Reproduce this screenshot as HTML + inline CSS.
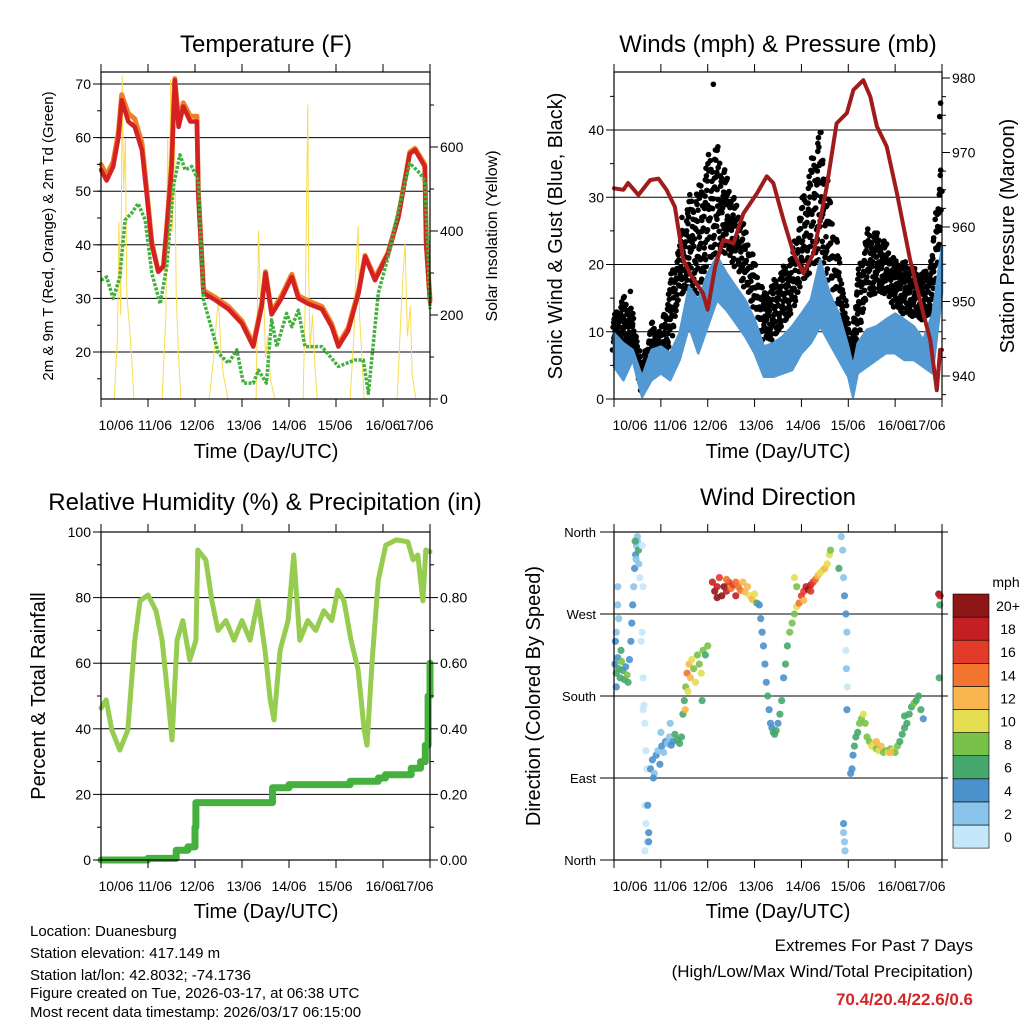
<!DOCTYPE html>
<html><head><meta charset="utf-8"><style>
body{margin:0;background:#fff}
svg{display:block;font-family:"Liberation Sans",sans-serif}
</style></head><body>
<svg id="s" width="1024" height="1024" viewBox="0 0 1024 1024" xmlns="http://www.w3.org/2000/svg"></svg>
<script>
// ---------- DATA ----------
const tempDay=[0,0.12,0.26,0.37,0.44,0.58,0.72,0.87,0.97,1.08,1.22,1.33,1.4,1.5,1.57,1.65,1.75,1.9,2.04,2.07,2.18,2.43,2.71,3.0,3.24,3.42,3.5,3.63,3.84,4.06,4.2,4.41,4.7,4.91,5.05,5.26,5.48,5.62,5.83,6.11,6.33,6.57,6.68,6.89,6.92,7.0];
const temp2m=[54,52,54.6,60,67,63,62,57.7,49.6,40,35,36,43,54,70.7,62,65.8,63,63,49.6,31,29.7,28,25.3,21,28.5,34.7,27,30,34,30,29,28,24.7,21,24,31,37.8,33.4,38.4,45.2,57,57.7,54.6,40,29.4];
const temp9m=[55,53,55.5,61,68,64.5,63.5,59,50.5,40.5,35,36,43.5,55,71,63,66.5,64,64,50,31.5,30.2,28.5,25.8,21.5,29,35,27.5,30.5,34.5,30.5,29.5,28.5,25.2,21.5,24.5,31.5,38,33.8,38.6,45.5,57.3,58,55,40.5,29.8];
const dewDay=[0,0.12,0.26,0.4,0.51,0.65,0.79,0.94,1.08,1.26,1.4,1.54,1.68,1.79,1.93,2.07,2.18,2.5,2.71,2.89,3.03,3.24,3.35,3.52,3.63,3.74,3.95,4.06,4.2,4.34,4.7,5.05,5.4,5.58,5.69,5.9,6.11,6.33,6.57,6.79,6.89,6.95,7.0];
const dewPt=[33.4,34,30,34,44.6,45.9,47.7,44.6,34.7,29,36,51,56.8,54,54.6,52,29.7,19.8,17.9,20.4,14.2,14.2,16.6,14.2,26,21,27.2,24.7,27.8,21,21,17.3,18.5,18.5,12.3,31,37.8,46.5,55.2,53.3,52,40,28];
const solarDay=[0,0.28,0.35,0.38,0.42,0.45,0.48,0.52,0.55,0.6,0.65,0.7,1.3,1.38,1.42,1.45,1.48,1.52,1.56,1.6,1.65,1.7,2.3,2.4,2.45,2.5,2.55,2.6,2.7,3.3,3.35,3.4,3.45,3.5,3.55,3.6,3.7,4.3,4.35,4.4,4.42,4.45,4.5,4.55,4.6,5.3,5.38,5.42,5.47,5.5,5.55,5.6,6.3,6.38,6.43,6.47,6.52,6.58,6.62,6.7,7.0];
const solarVal=[0,0,150,420,200,770,500,620,250,180,100,0,0,200,620,350,760,400,700,250,100,0,0,100,180,240,120,60,0,0,400,200,300,100,150,50,0,0,250,700,300,120,200,80,0,0,150,300,410,200,100,0,0,200,300,370,150,220,60,0,0];
const presDay=[0,0.2,0.3,0.52,0.77,0.95,1.12,1.3,1.48,1.66,1.9,2.0,2.16,2.33,2.55,2.76,3.05,3.26,3.4,3.62,3.83,4.04,4.26,4.54,4.75,4.97,5.11,5.32,5.47,5.61,5.82,6.04,6.18,6.32,6.6,6.75,6.89,6.96,7.0];
const presVal=[965.2,965,965.9,964.3,966.3,966.5,965,962.7,955.6,953.3,951.1,948.9,954.7,958.3,957.8,961.8,964.5,966.8,965.9,960.9,956.5,953.8,956.5,965.4,973.9,975.3,978.4,979.7,977.5,973.5,970.8,964.5,960,955.6,948.4,944.8,938.1,943.5,943.5];
const windDay=[0,0.2,0.4,0.6,0.8,1.0,1.2,1.4,1.6,1.8,2.0,2.2,2.4,2.6,2.8,3.0,3.2,3.4,3.6,3.8,4.0,4.2,4.4,4.6,4.8,5.0,5.1,5.2,5.4,5.6,5.8,6.0,6.2,6.4,6.6,6.8,7.0];
const windLo=[4.8,2.8,5.8,0.3,2.8,3.8,2.8,5.8,10.8,6.8,10.8,14.7,13.2,11.3,9.3,6.8,3.3,3.3,3.8,4.3,6.8,8.3,10.8,8.3,5.8,3.3,0.3,3.8,4.8,5.8,6.8,6.8,5.8,5.8,4.8,3.8,15.7];
const windHi=[9.8,8.3,7.3,3.3,7.3,7.8,6.8,9.8,16.7,14.7,18.7,21.2,18.7,16.7,14.7,11.8,7.8,8.3,9.3,10.8,12.7,14.7,20.7,15.7,12.7,7.8,4.8,8.3,10.3,10.8,11.8,12.7,11.8,10.8,8.8,12.7,22.7];
const gustLo=[7.3,8.3,7.8,1.3,5.8,5.8,7.8,14.7,16.7,15.7,19.7,21.7,21.7,19.7,16.7,13.7,8.8,8.8,10.8,12.7,16.7,18.7,20.7,17.7,12.7,5.8,3.3,8.8,14.7,15.7,15.7,13.7,12.7,12.3,11.8,12.7,25.6];
const gustHi=[12.3,15.7,13.2,4.3,11.8,9.8,18.2,23.6,30.6,31.6,36.5,38.5,33.6,29.5,25.6,20.7,15.7,17.7,19.7,21.7,29.5,35.5,41.5,30.6,21.7,11.8,8.3,18.7,25.6,25.1,23.6,20.7,20.7,19.7,18.7,21.7,38];
const gustOutDay=[2.12,1.45,1.55,4.35,4.45,6.95,6.97,0.35];
const gustOutVal=[46.8,27,25,38,35,42,44,16];
const rhDay=[0,0.11,0.23,0.4,0.57,0.72,0.83,1.0,1.17,1.3,1.43,1.51,1.62,1.74,1.89,2.02,2.06,2.23,2.36,2.49,2.66,2.83,3.0,3.17,3.34,3.49,3.6,3.68,3.81,3.98,4.1,4.23,4.4,4.57,4.74,4.91,5.04,5.17,5.32,5.47,5.6,5.66,5.77,5.9,6.06,6.28,6.53,6.64,6.74,6.85,6.91,6.98,7.0];
const rhVal=[46.3,48.8,39.6,33.5,39.6,67,79,80.8,76,67,48.8,36.6,67,73,61,67,94.5,91.5,79,70,73,67,73,67,79,64,48.8,42.7,64,73,93,67,73,70,76,73,82.3,79,67,58,39.6,35,61,85.4,96,97.6,97,91.5,93,79,94.5,94,94];
const rainDay=[0,1.0,1.6,1.85,2.0,2.02,3.6,3.65,4.0,5.3,5.9,6.05,6.6,6.8,6.9,6.96,7.0];
const rainVal=[0,0.5,3,4,10,17.5,17.5,22,23,24,25,26,28,30,35,50,60];
const dirDay=[0.02,0.05,0.08,0.1,0.13,0.16,0.19,0.22,0.25,0.28,0.3,0.33,0.05,0.15,0.08,0.08,0.1,0.05,0.03,
0.36,0.38,0.4,0.42,0.44,0.46,0.48,0.5,0.52,0.53,0.55,0.5,0.47,0.45,
0.6,0.62,0.6,0.62,0.64,0.66,0.68,0.7,0.66,0.68,0.7,0.66,0.72,0.74,0.74,0.58,0.62,
0.78,0.82,0.86,0.9,0.94,0.98,1.02,1.06,1.1,1.14,1.18,1.22,1.26,1.3,1.35,1.4,1.44,0.84,1.0,1.2,
1.47,1.5,1.53,1.56,1.6,1.63,1.66,1.7,1.74,1.78,1.82,1.86,1.9,1.95,2.0,1.52,1.58,1.88,
2.1,2.15,2.2,2.25,2.3,2.35,2.4,2.45,2.5,2.55,2.6,2.65,2.7,2.75,2.8,2.85,2.9,2.95,3.0,3.05,2.2,2.4,2.6,
3.1,3.13,3.16,3.19,3.22,3.25,3.28,3.31,3.34,3.37,3.4,3.43,3.46,3.5,3.54,3.58,3.62,3.66,3.7,3.75,3.8,3.85,3.9,3.95,4.0,4.05,4.1,4.15,4.2,4.25,4.3,4.35,4.4,4.45,4.5,4.55,4.6,4.62,3.85,3.9,4.05,4.2,
4.85,4.88,4.9,4.92,4.95,4.97,4.95,4.96,4.98,4.97,4.9,4.92,4.93,4.9,4.8,
5.05,5.08,5.1,5.13,5.16,5.2,5.24,5.28,5.32,5.36,5.4,5.45,5.5,5.55,5.6,5.65,5.7,5.75,5.8,5.85,5.9,5.95,6.0,6.05,6.1,6.15,6.2,6.25,6.3,6.35,6.4,6.45,6.5,6.55,6.6,5.6,5.9,6.2,
6.93,6.96,6.95,6.94];
const dirDeg=[215,205,222,210,200,218,208,198,212,203,195,220,190,230,300,280,265,250,240,
240,260,280,300,320,335,345,350,340,325,310,355,330,350,
345,300,250,200,170,150,120,100,60,40,20,10,60,20,30,240,165,
100,110,95,115,120,105,125,118,130,128,135,126,130,138,132,128,135,90,140,150,
160,175,190,205,215,200,220,210,195,225,215,205,230,225,235,165,185,175,
305,295,300,310,290,300,295,305,298,302,290,300,296,305,294,300,290,286,292,282,288,308,305,
280,265,250,235,215,195,180,165,150,145,140,138,142,150,160,175,200,215,235,250,260,270,278,282,290,295,300,297,302,305,308,312,315,318,320,325,335,340,310,300,285,295,
355,340,310,290,270,250,230,210,190,165,40,20,10,30,320,
95,100,115,125,135,140,150,155,160,150,135,130,125,128,122,120,125,118,120,118,122,120,118,125,130,138,145,150,160,168,172,175,180,165,155,130,118,158,
292,290,280,200];
const dirSpd=[4,6,5,7,6,8,6,7,5,8,7,5,4,7,2,3,2,3,4,
4,4,4,3,4,4,3,2,6,2,1,2,2,6,
1,1,0,1,0,0,0,1,0,1,1,0,4,4,4,0,1,
4,4,3,4,3,4,4,3,4,3,2,4,5,6,7,7,6,4,3,2,
6,7,8,14,13,12,10,9,10,8,9,11,8,7,8,12,11,7,
18,20,19,17,20,20,18,16,15,17,18,15,14,13,13,12,11,12,10,6,20,15,14,
4,5,4,4,5,5,6,5,4,4,6,7,6,5,6,7,5,6,7,8,8,9,10,14,16,17,19,20,18,16,14,12,11,10,12,10,10,9,10,8,13,16,
2,3,3,4,4,2,1,2,1,4,4,2,2,2,7,
4,4,5,6,6,7,8,9,10,8,8,9,10,11,9,10,12,9,8,10,9,11,9,8,7,6,6,7,6,7,8,7,6,6,5,13,12,6,
20,19,7,6];
const xLabels=["10/06","11/06","12/06","13/06","14/06","15/06","16/06","17/06"];
const speedLabels=["0","2","4","6","8","10","12","14","16","18","20+"];
const speedColors=['#c4e8fa','#8ac4ea','#4b91cc','#46a86c','#79c24a','#e3de50','#f9b64e','#f2742e','#e23b2a','#c41f23','#8e1617'];

// ---------- HELPERS ----------
const S=document.getElementById('s');
const NS='http://www.w3.org/2000/svg';
function mk(tag,attrs,parent){const e=document.createElementNS(NS,tag);for(const k in attrs)e.setAttribute(k,attrs[k]);(parent||S).appendChild(e);return e;}
function txt(x,y,s,size,anchor,extra){const e=mk('text',Object.assign({x:x,y:y,'font-size':size,'text-anchor':anchor||'middle',fill:'#000'},extra||{}));e.textContent=s;return e;}
const P1={x0:101,x1:430,y0:72,y1:399},P2={x0:614,x1:942,y0:72,y1:399},P3={x0:101,x1:430,y0:532,y1:860},P4={x0:614,x1:942,y0:532,y1:860};
function xs(P,d){return P.x0+d*(P.x1-P.x0)/7;}
const yT=v=>84+(70-v)*5.36, ySol=v=>399-v*0.42;
const yW=v=>399-v*6.725, yP=v=>376-(v-940)*7.45;
const yR=v=>860-v*3.28, yD=v=>860-v*328/360;
function poly(P,days,vals,fy,attrs,name){let pts=days.map((d,i)=>xs(P,d).toFixed(1)+','+fy(vals[i]).toFixed(1)).join(' ');const e=mk('polyline',Object.assign({points:pts,fill:'none','stroke-linejoin':'round','stroke-linecap':'round'},attrs));


return e;}
function frame(P,name,lblX){
  const g=mk('g',{});
  
  
  for(let i=0;i<=7;i++){const x=xs(P,i);
    mk('line',{x1:x,x2:x,y1:P.y1,y2:P.y1+8,stroke:'#000','stroke-width':1},g);
    mk('line',{x1:x,x2:x,y1:P.y0,y2:P.y0-8,stroke:'#000','stroke-width':1},g);
    const t=txt(lblX[i],P.y1+31,xLabels[i],14,'middle');
    
    
  }
  return g;
}
function box(P,name){const r=mk('rect',{x:P.x0,y:P.y0,width:P.x1-P.x0,height:P.y1-P.y0,fill:'none',stroke:'#000','stroke-width':1.2});

}
function hgrid(P,ys){ys.forEach(y=>{const l=mk('line',{x1:P.x0,x2:P.x1,y1:y,y2:y,stroke:'#000','stroke-width':1});

});}
function yTicks(P,side,vals,fy,labels,len,size,gap){vals.forEach((v,i)=>{const y=fy(v);const x=side==='l'?P.x0:P.x1;
mk('line',{x1:x,x2:side==='l'?x-len:x+len,y1:y,y2:y,stroke:'#000','stroke-width':1});
if(labels&&labels[i]!==null&&labels[i]!==undefined){const g=gap||10;const t=txt(side==='l'?x-g:x+g,y+5,labels[i],size||14,side==='l'?'end':'start');

}});}
function rotTitle(x,y,s,size,name){const t=txt(x,y,s,size,'middle',{transform:'rotate(-90 '+x+' '+y+')'});

}
function title(x,y,s,size,name){const t=txt(x,y,s,size,'middle');

}

// ---------- PANEL 1: TEMPERATURE ----------
hgrid(P1,[70,60,50,40,30,20].map(yT));
poly(P1,solarDay,solarVal,ySol,{stroke:'#f8dc50','stroke-width':1},'solar-insolation-line');
poly(P1,tempDay,temp9m,yT,{stroke:'#f07f28','stroke-width':5},'temp-9m-line');
poly(P1,tempDay,temp2m,yT,{stroke:'#d42222','stroke-width':4.5},'temp-2m-line');
poly(P1,dewDay,dewPt,yT,{stroke:'#44b040','stroke-width':3.5,'stroke-dasharray':'3 1.5','stroke-linecap':'butt'},'dewpoint-line');
box(P1,'temperature-plot-frame');
frame(P1,'temperature-x-axis',[116,155,197,244,289,335,383,416]);
yTicks(P1,'l',[15,20,25,30,35,40,45,50,55,60,65,70],yT,null,4);
yTicks(P1,'l',[20,30,40,50,60,70],yT,['20','30','40','50','60','70'],8);
yTicks(P1,'r',[100,300,500,700],ySol,null,4);
yTicks(P1,'r',[0,200,400,600],ySol,['0','200','400','600'],8);
title(266,52,'Temperature (F)',24,'temperature-title');
title(266,458,'Time (Day/UTC)',20,'temperature-x-title');
rotTitle(53,236,'2m & 9m T (Red, Orange) & 2m Td (Green)',15,'temperature-y-title');
rotTitle(497,236,'Solar Insolation (Yellow)',16,'solar-y-title');

// ---------- PANEL 2: WINDS ----------
hgrid(P2,[10,20,30,40].map(yW));
const scatterPattern=[0,0.37,0.71,0.19,0.55,0.88,0.08,0.46];
for(let i=0;i<windDay.length-1;i++){for(let k=0;k<8;k++){const f=k/8;const d=windDay[i]+(windDay[i+1]-windDay[i])*f;
 const lo=gustLo[i]+(gustLo[i+1]-gustLo[i])*f, hi=gustHi[i]+(gustHi[i+1]-gustHi[i])*f;
 for(let j=0;j<5;j++){const q=(j+scatterPattern[(k+j*3)%8])/5;const v=lo+(hi-lo)*q;const c=mk('circle',{cx:(xs(P2,d)+scatterPattern[(k*5+j)%8]*3-1.5).toFixed(1),cy:yW(v).toFixed(1),r:2.8,fill:'#000'});
 
 }}}
gustOutDay.forEach((d,i)=>{const c=mk('circle',{cx:xs(P2,d),cy:yW(gustOutVal[i]),r:2.8,fill:'#000'});

});
{const pts=windDay.map((d,i)=>xs(P2,d).toFixed(1)+','+yW(windHi[i]).toFixed(1)).concat(windDay.slice().reverse().map((d,i)=>{const j=windDay.length-1-i;return xs(P2,d).toFixed(1)+','+yW(windLo[j]).toFixed(1);})).join(' ');
const e=mk('polygon',{points:pts,fill:'#5298d2',stroke:'#5298d2','stroke-width':2.5,'stroke-linejoin':'round'});

}
poly(P2,presDay,presVal,yP,{stroke:'#a01c1c','stroke-width':4},'pressure-line');
box(P2,'winds-plot-frame');
frame(P2,'winds-x-axis',[630,670,710,756,803,848,895,928]);
yTicks(P2,'l',[5,15,25,35,45],yW,null,4);
yTicks(P2,'l',[0,10,20,30,40],yW,['0','10','20','30','40'],8);
yTicks(P2,'r',[937.5,942.5,945,947.5,952.5,955,957.5,962.5,965,967.5,972.5,975,977.5],yP,null,4);
yTicks(P2,'r',[940,950,960,970,980],yP,['940','950','960','970','980'],8);
title(778,52,'Winds (mph) & Pressure (mb)',24,'winds-title');
title(778,458,'Time (Day/UTC)',20,'winds-x-title');
rotTitle(562,236,'Sonic Wind & Gust (Blue, Black)',20,'wind-y-title');
rotTitle(1014,236,'Station Pressure (Maroon)',20,'pressure-y-title');

// ---------- PANEL 3: RH & PRECIP ----------
hgrid(P3,[20,40,60,80].map(yR));
poly(P3,rhDay,rhVal,yR,{stroke:'#96cc50','stroke-width':5},'relative-humidity-line');
{let pts=[];rainDay.forEach((d,i)=>{if(i>0)pts.push(xs(P3,d).toFixed(1)+','+yR(rainVal[i-1]).toFixed(1));pts.push(xs(P3,d).toFixed(1)+','+yR(rainVal[i]).toFixed(1));});
const e=mk('polyline',{points:pts.join(' '),fill:'none',stroke:'#46b03e','stroke-width':7,'stroke-linejoin':'round','stroke-linecap':'round'});

}
box(P3,'humidity-plot-frame');
frame(P3,'humidity-x-axis',[116,155,197,244,289,335,383,416]);
yTicks(P3,'l',[10,30,50,70,90],yR,null,4);
yTicks(P3,'l',[0,20,40,60,80,100],yR,['0','20','40','60','80','100'],8);
yTicks(P3,'r',[10,30,50,70,90],yR,null,4);
yTicks(P3,'r',[0,20,40,60,80],yR,['0.00','0.20','0.40','0.60','0.80'],8);
title(265,510,'Relative Humidity (%) & Precipitation (in)',24,'humidity-title');
title(266,918,'Time (Day/UTC)',20,'humidity-x-title');
rotTitle(45,696,'Percent & Total Rainfall',20,'humidity-y-title');

// ---------- PANEL 4: WIND DIRECTION ----------
hgrid(P4,[270,180,90].map(yD));
dirDay.forEach((d,i)=>{const b=Math.min(10,Math.floor(dirSpd[i]/2));const c=mk('circle',{cx:xs(P4,d).toFixed(1),cy:yD(dirDeg[i]).toFixed(1),r:3.6,fill:speedColors[b],'fill-opacity':0.9});

});
box(P4,'direction-plot-frame');
frame(P4,'direction-x-axis',[630,670,710,756,803,848,895,928]);
yTicks(P4,'l',[0,90,180,270,360],yD,['North','East','South','West','North'],14,13,18);
yTicks(P4,'r',[0,90,180,270,360],yD,null,6);
title(778,505,'Wind Direction',24,'direction-title');
title(778,918,'Time (Day/UTC)',20,'direction-x-title');
rotTitle(540,696,'Direction (Colored By Speed)',20,'direction-y-title');
// colorbar
{const g=mk('g',{});


for(let i=0;i<11;i++){const y=594+(10-i)*23.1;mk('rect',{x:953,y:y,width:36,height:23.1,fill:speedColors[i],stroke:'#000','stroke-width':0.6},g);
const t=txt(1008,y+17,speedLabels[i],14,'middle');

}
const m=txt(1006,587,'mph',14,'middle');

}

// ---------- FOOTER ----------
const footY=[936,958,980,998,1017];
['Location: Duanesburg','Station elevation: 417.149 m','Station lat/lon: 42.8032; -74.1736','Figure created on Tue, 2026-03-17, at 06:38 UTC','Most recent data timestamp: 2026/03/17 06:15:00'].forEach((s,i)=>{const t=txt(30,footY[i],s,15,'start');

});
{let t=txt(973,951,'Extremes For Past 7 Days',17,'end');


t=txt(973,977,'(High/Low/Max Wind/Total Precipitation)',17,'end');


t=txt(973,1005,'70.4/20.4/22.6/0.6',17,'end',{fill:'#d02828','font-weight':'bold'});

}
</script>
</body></html>
